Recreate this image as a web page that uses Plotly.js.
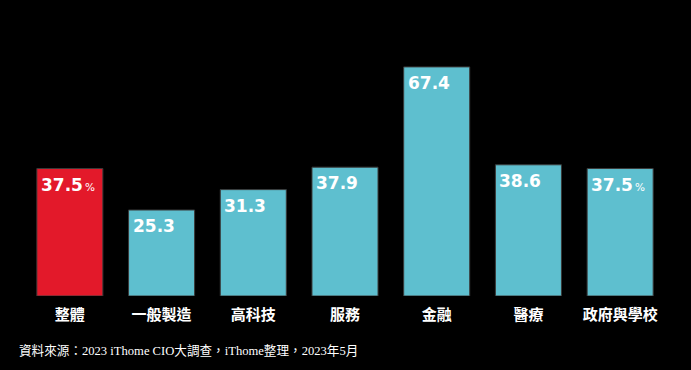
<!DOCTYPE html>
<html>
<head>
<meta charset="utf-8">
<script src="https://cdn.plot.ly/plotly-3.0.1.min.js"></script>
<style>html,body{margin:0;padding:0;background:#000;}#chart{width:691px;height:370px;}</style>
</head>
<body>
<div id="chart"></div>
<script>
const categories = ["整體", "一般製造", "高科技", "服務", "金融", "醫療", "政府與學校"];
const values = [37.5, 25.3, 31.3, 37.9, 67.4, 38.6, 37.5];
const showPercent = [true, false, false, false, false, false, true];
const sourceText = "資料來源：2023 iThome CIO大調查，iThome整理，2023年5月";

const colors = values.map((v, i) => i === 0 ? "#e3192a" : "#5ebfcf");

const trace = {
  type: "bar",
  x: categories,
  y: values,
  marker: { color: colors, line: { color: "#3a3a3a", width: 1 } },
  hoverinfo: "none"
};

const annotations = values.map((v, i) => ({
  x: categories[i],
  y: v,
  xref: "x",
  yref: "y",
  xanchor: "left",
  yanchor: "top",
  xshift: -31,
  yshift: -4,
  showarrow: false,
  align: "left",
  text: "<b>" + v.toFixed(1) + "</b>" + (showPercent[i] ? "<span style='font-size:10.5px'>\u2009%</span>" : ""),
  font: { family: "DejaVu Sans, sans-serif", size: 17, color: "#ffffff" }
}));

annotations.push({
  xref: "paper", yref: "paper",
  x: 0, y: 0,
  xanchor: "left", yanchor: "top",
  xshift: -7, yshift: -46,
  showarrow: false,
  text: sourceText,
  font: { family: "Liberation Serif, Noto Sans CJK TC, serif", size: 12.6, color: "#ffffff" }
});

const layout = {
  width: 691,
  height: 370,
  paper_bgcolor: "#000000",
  plot_bgcolor: "#000000",
  margin: { l: 24, r: 25, t: 20, b: 74 },
  showlegend: false,
  bargap: 0.28,
  xaxis: {
    range: [-0.5, 6.5],
    showgrid: false,
    zeroline: false,
    showline: false,
    ticks: "",
    ticklabelstandoff: 8,
    tickfont: { family: "Noto Sans CJK TC, sans-serif", size: 15, color: "#ffffff", weight: 700 }
  },
  yaxis: {
    range: [0, 81.2],
    showgrid: false,
    zeroline: false,
    showline: false,
    showticklabels: false,
    ticks: ""
  },
  annotations: annotations
};

Plotly.newPlot("chart", [trace], layout, { displayModeBar: false, staticPlot: true });
</script>
</body>
</html>
